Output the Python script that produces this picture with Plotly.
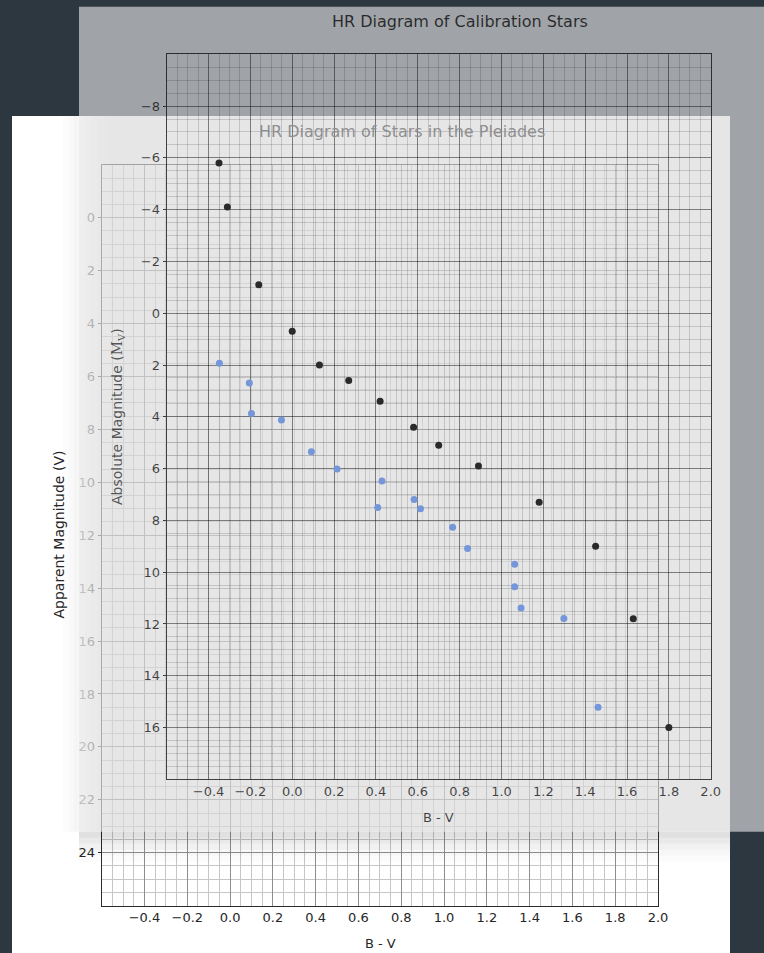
import plotly.graph_objects as go

# ---------------- data ----------------
cal_bv = [-0.35, -0.31, -0.16, 0.00, 0.13, 0.27, 0.42, 0.58, 0.70, 0.89, 1.18, 1.45, 1.63, 1.80]
cal_mv = [-5.8, -4.1, -1.1, 0.7, 2.0, 2.6, 3.4, 4.4, 5.1, 5.9, 7.3, 9.0, 11.8, 16.0]

ple_bv = [-0.05, 0.09, 0.10, 0.24, 0.38, 0.50, 0.71, 0.69, 0.86, 0.89, 1.04, 1.11, 1.33, 1.33, 1.36, 1.56, 1.72]
ple_v = [5.5, 6.25, 7.4, 7.65, 8.85, 9.5, 9.95, 10.95, 10.65, 11.0, 11.7, 12.5, 13.1, 13.95, 14.75, 15.15, 18.5]

bv_ticks = [-0.4, -0.2, 0.0, 0.2, 0.4, 0.6, 0.8, 1.0, 1.2, 1.4, 1.6, 1.8, 2.0]
app_ticks = [0, 2, 4, 6, 8, 10, 12, 14, 16, 18, 20, 22, 24]
abs_ticks = [-8, -6, -4, -2, 0, 2, 4, 6, 8, 10, 12, 14, 16]

cal_title = "HR Diagram of Calibration Stars"
ple_title = "HR Diagram of Stars in the Pleiades"

W, H = 764, 953
FONT = "DejaVu Sans"


def fx(px):
    return px / W


def fy(py):
    return 1 - py / H


fig = go.Figure()

# subplot 1: Pleiades frame + grid (drawn first, later covered by the card)
fig.add_trace(go.Scatter(x=[None], y=[None], xaxis="x", yaxis="y",
                         showlegend=False, hoverinfo="skip"))

# subplot 2: translucent calibration card (pixel coordinate space)
def rect(x0, x1, y0, y1, color):
    fig.add_trace(go.Scatter(x=[x0, x1, x1, x0, x0], y=[y0, y0, y1, y1, y0],
                             mode="none", fill="toself", fillcolor=color,
                             xaxis="x2", yaxis="y2", showlegend=False,
                             hoverinfo="skip"))

# soft shadows of the card on the white card
for i, a in enumerate([0.12, 0.085, 0.055, 0.032, 0.014]):
    rect(79, 730, 831.7 + i * 6, 837.7 + i * 6, "rgba(0,0,0,%.3f)" % a)
for i, a in enumerate([0.012, 0.025, 0.04]):
    rect(63 + i * 5.3, 68.3 + i * 5.3, 116, 831.7, "rgba(0,0,0,%.3f)" % a)
# card body
rect(79, 764, 6.7, 831.7, "rgba(218,218,219,0.67)")
for i, a in enumerate([0.34, 0.26, 0.18, 0.11, 0.05]):
    rect(79 + i * 6.2, 85.2 + i * 6.2, 116, 831.7, "rgba(255,255,255,%.2f)" % a)

# subplot 3: calibration stars
fig.add_trace(go.Scatter(x=cal_bv, y=cal_mv, mode="markers", xaxis="x3", yaxis="y3",
                         marker=dict(size=7, color="#2a2a2a"),
                         showlegend=False, name="Calibration"))

# subplot 4: Pleiades stars
fig.add_trace(go.Scatter(x=ple_bv, y=ple_v, mode="markers", xaxis="x4", yaxis="y4",
                         marker=dict(size=7, color="#7596d8"),
                         showlegend=False, name="Pleiades"))

ple_dom_x = [fx(101.7), fx(658.0)]
ple_dom_y = [fy(905.6), fy(164.8)]
cal_dom_x = [fx(166.7), fx(710.7)]
cal_dom_y = [fy(779.3), fy(54.3)]

ple_line = "#2b2b2b"
ple_major = "#8e8e8e"
ple_minor = "#c6c6c6"
cal_line = "rgba(0,0,0,0.72)"
cal_major = "rgba(0,0,0,0.36)"
cal_minor = "rgba(0,0,0,0.15)"
cal_text = "rgba(0,0,0,0.72)"

base = dict(showline=True, mirror=True, zeroline=False, linewidth=1.2, gridwidth=1,
            automargin=False)

fig.update_layout(
    width=W, height=H, autosize=False,
    margin=dict(l=0, r=0, t=0, b=0, pad=0, autoexpand=False),
    paper_bgcolor="#2d3740",
    plot_bgcolor="rgba(0,0,0,0)",
    showlegend=False,
    font=dict(family=FONT, size=13, color="#262626"),
    shapes=[dict(type="rect", xref="paper", yref="paper", layer="below",
                 x0=fx(12), x1=fx(730), y0=0, y1=fy(116),
                 fillcolor="#ffffff", line=dict(width=0))],
    xaxis=dict(domain=ple_dom_x, anchor="y", range=[-0.6, 2.0],
               tickmode="array", tickvals=bv_ticks, tickformat=".1f",
               ticks="", linecolor=ple_line, gridcolor=ple_major,
               tickfont=dict(family=FONT, size=13, color="#262626"),
               minor=dict(tick0=0, dtick=0.05, showgrid=True, gridcolor=ple_minor),
               **base),
    yaxis=dict(domain=ple_dom_y, anchor="x", range=[26, -2],
               tickmode="array", tickvals=app_ticks,
               ticks="outside", ticklen=3, tickcolor=ple_line,
               linecolor=ple_line, gridcolor=ple_major,
               tickfont=dict(family=FONT, size=13, color="#262626"),
               minor=dict(tick0=0, dtick=0.5, showgrid=True, gridcolor=ple_minor),
               **base),
    xaxis2=dict(domain=[0, 1], anchor="y2", range=[0, W], visible=False, fixedrange=True),
    yaxis2=dict(domain=[0, 1], anchor="x2", range=[H, 0], visible=False, fixedrange=True),
    xaxis3=dict(domain=cal_dom_x, anchor="y3", range=[-0.6, 2.0],
                tickmode="array", tickvals=bv_ticks, tickformat=".1f",
                ticks="", linecolor=cal_line, gridcolor=cal_major,
                tickfont=dict(family=FONT, size=13, color=cal_text),
                minor=dict(tick0=0, dtick=0.05, showgrid=True, gridcolor=cal_minor),
                **base),
    yaxis3=dict(domain=cal_dom_y, anchor="x3", range=[18, -10],
                tickmode="array", tickvals=abs_ticks,
                ticks="outside", ticklen=3, tickcolor=cal_line,
                linecolor=cal_line, gridcolor=cal_major,
                tickfont=dict(family=FONT, size=13, color=cal_text),
                minor=dict(tick0=0, dtick=0.5, showgrid=True, gridcolor=cal_minor),
                **base),
    xaxis4=dict(domain=ple_dom_x, anchor="y4", range=[-0.6, 2.0], visible=False),
    yaxis4=dict(domain=ple_dom_y, anchor="x4", range=[26, -2], visible=False),
)

ann = []
def text(x, y, s, size, color, angle=0):
    ann.append(dict(x=fx(x), y=fy(y), xref="paper", yref="paper", text=s,
                    showarrow=False, textangle=angle, xanchor="center", yanchor="middle",
                    font=dict(family=FONT, size=size, color=color)))

text(459.5, 21, cal_title, 16, "rgba(0,0,0,0.75)")
text(402, 131, ple_title, 16, "#8f8f8f")
text(438.7, 817, "B - V", 13, cal_text)
text(380, 943, "B - V", 13, "#262626")
text(58, 534.5, "Apparent Magnitude (V)", 14, "#262626", -90)
text(118, 417, "Absolute Magnitude (<span style='font-family:DejaVu Serif'>M<sub>V</sub></span>)",
     14, "rgba(0,0,0,0.65)", -90)
fig.update_layout(annotations=ann)

fig.write_html(
    "out.html",
    config={"responsive": False, "displayModeBar": False},
    post_script=("document.documentElement.style.margin='0';"
                 "document.documentElement.style.overflow='hidden';"
                 "document.body.style.margin='0';"
                 "document.body.style.overflow='hidden';"),
)
